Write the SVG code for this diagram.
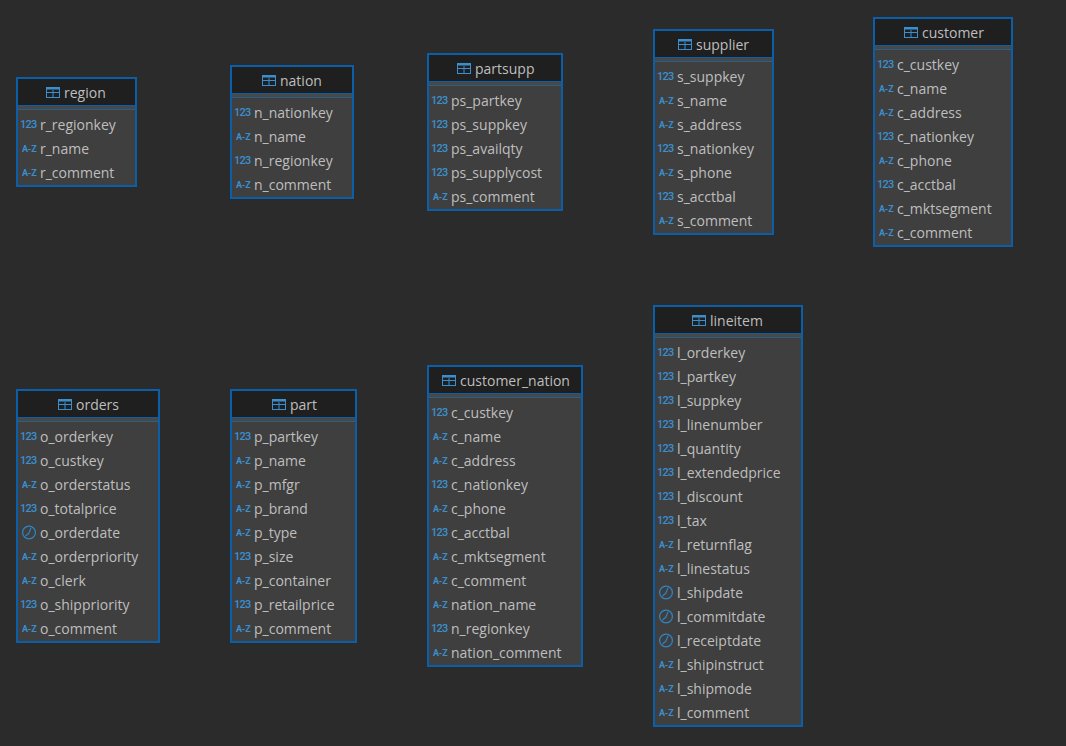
<svg xmlns="http://www.w3.org/2000/svg" width="1066" height="746" viewBox="0 0 1066 746">
<style>
.box{fill:#3f3f3f}
.head{fill:#1f1f1f}
.sep{fill:#484848}
.l1{fill:none;stroke:#0b5ea8;stroke-width:1}
.l2{fill:none;stroke:#2a5f88;stroke-width:1}
.border{fill:none;stroke:#0b5ea8;stroke-width:2}
.t,.h{font-family:"Open Sans","Noto Sans",sans-serif;font-size:14px;fill:#bebebe}
.n{font-family:Roboto,"Noto Sans",sans-serif;font-size:11px;font-weight:500;letter-spacing:-0.7px;fill:#3a8fd0}
.a{font-family:Roboto,"Noto Sans",sans-serif;font-size:9px;font-weight:700;letter-spacing:-0.2px;fill:#3a8fd0}
</style>
<defs>
<g id="ti"><rect x="0.5" y="0.5" width="13" height="10" fill="none" stroke="#3a8fd0"/><path d="M0 5.5H14M7 3V11" stroke="#3a8fd0" fill="none"/><rect x="0.5" y="0.5" width="13" height="2" fill="#3a8fd0"/></g>
<g id="ck"><circle cx="7" cy="7" r="6.4" fill="none" stroke="#2f86c4" stroke-width="1.2"/><path d="M9 2.5L6.8 7.8L3.5 10.5" fill="none" stroke="#2f86c4" stroke-width="1.1"/></g>
</defs>
<rect width="1066" height="746" fill="#2b2b2b"/>
<g id="connectors"/>
<g id="region">
<rect class="box" x="17" y="78" width="119" height="108"/><rect class="head" x="17" y="78" width="119" height="27"/><rect class="sep" x="17" y="105" width="119" height="4"/><path class="l1" d="M17 105.5h119"/><path class="l2" d="M17 109.5h119"/><rect class="border" x="17" y="78" width="119" height="108"/>
<use href="#ti" x="46" y="87"/><text class="h" x="64" y="98">region</text>
<text class="n" x="20" y="128">123</text><text class="t" x="40" y="130">r_regionkey</text>
<text class="a" x="22" y="152">A-Z</text><text class="t" x="40" y="154">r_name</text>
<text class="a" x="22" y="176">A-Z</text><text class="t" x="40" y="178">r_comment</text>
</g>
<g id="nation">
<rect class="box" x="231" y="66" width="122" height="132"/><rect class="head" x="231" y="66" width="122" height="27"/><rect class="sep" x="231" y="93" width="122" height="4"/><path class="l1" d="M231 93.5h122"/><path class="l2" d="M231 97.5h122"/><rect class="border" x="231" y="66" width="122" height="132"/>
<use href="#ti" x="262" y="75"/><text class="h" x="280" y="86">nation</text>
<text class="n" x="234" y="116">123</text><text class="t" x="254" y="118">n_nationkey</text>
<text class="a" x="236" y="140">A-Z</text><text class="t" x="254" y="142">n_name</text>
<text class="n" x="234" y="164">123</text><text class="t" x="254" y="166">n_regionkey</text>
<text class="a" x="236" y="188">A-Z</text><text class="t" x="254" y="190">n_comment</text>
</g>
<g id="partsupp">
<rect class="box" x="428" y="54" width="134" height="156"/><rect class="head" x="428" y="54" width="134" height="27"/><rect class="sep" x="428" y="81" width="134" height="4"/><path class="l1" d="M428 81.5h134"/><path class="l2" d="M428 85.5h134"/><rect class="border" x="428" y="54" width="134" height="156"/>
<use href="#ti" x="457" y="63"/><text class="h" x="475" y="74">partsupp</text>
<text class="n" x="431" y="104">123</text><text class="t" x="451" y="106">ps_partkey</text>
<text class="n" x="431" y="128">123</text><text class="t" x="451" y="130">ps_suppkey</text>
<text class="n" x="431" y="152">123</text><text class="t" x="451" y="154">ps_availqty</text>
<text class="n" x="431" y="176">123</text><text class="t" x="451" y="178">ps_supplycost</text>
<text class="a" x="433" y="200">A-Z</text><text class="t" x="451" y="202">ps_comment</text>
</g>
<g id="supplier">
<rect class="box" x="654" y="30" width="119" height="204"/><rect class="head" x="654" y="30" width="119" height="27"/><rect class="sep" x="654" y="57" width="119" height="4"/><path class="l1" d="M654 57.5h119"/><path class="l2" d="M654 61.5h119"/><rect class="border" x="654" y="30" width="119" height="204"/>
<use href="#ti" x="678" y="39"/><text class="h" x="696" y="50">supplier</text>
<text class="n" x="657" y="80">123</text><text class="t" x="677" y="82">s_suppkey</text>
<text class="a" x="659" y="104">A-Z</text><text class="t" x="677" y="106">s_name</text>
<text class="a" x="659" y="128">A-Z</text><text class="t" x="677" y="130">s_address</text>
<text class="n" x="657" y="152">123</text><text class="t" x="677" y="154">s_nationkey</text>
<text class="a" x="659" y="176">A-Z</text><text class="t" x="677" y="178">s_phone</text>
<text class="n" x="657" y="200">123</text><text class="t" x="677" y="202">s_acctbal</text>
<text class="a" x="659" y="224">A-Z</text><text class="t" x="677" y="226">s_comment</text>
</g>
<g id="customer">
<rect class="box" x="874" y="18" width="138" height="228"/><rect class="head" x="874" y="18" width="138" height="27"/><rect class="sep" x="874" y="45" width="138" height="4"/><path class="l1" d="M874 45.5h138"/><path class="l2" d="M874 49.5h138"/><rect class="border" x="874" y="18" width="138" height="228"/>
<use href="#ti" x="904" y="27"/><text class="h" x="922" y="38">customer</text>
<text class="n" x="877" y="68">123</text><text class="t" x="897" y="70">c_custkey</text>
<text class="a" x="879" y="92">A-Z</text><text class="t" x="897" y="94">c_name</text>
<text class="a" x="879" y="116">A-Z</text><text class="t" x="897" y="118">c_address</text>
<text class="n" x="877" y="140">123</text><text class="t" x="897" y="142">c_nationkey</text>
<text class="a" x="879" y="164">A-Z</text><text class="t" x="897" y="166">c_phone</text>
<text class="n" x="877" y="188">123</text><text class="t" x="897" y="190">c_acctbal</text>
<text class="a" x="879" y="212">A-Z</text><text class="t" x="897" y="214">c_mktsegment</text>
<text class="a" x="879" y="236">A-Z</text><text class="t" x="897" y="238">c_comment</text>
</g>
<g id="orders">
<rect class="box" x="17" y="390" width="142" height="252"/><rect class="head" x="17" y="390" width="142" height="27"/><rect class="sep" x="17" y="417" width="142" height="4"/><path class="l1" d="M17 417.5h142"/><path class="l2" d="M17 421.5h142"/><rect class="border" x="17" y="390" width="142" height="252"/>
<use href="#ti" x="58" y="399"/><text class="h" x="76" y="410">orders</text>
<text class="n" x="20" y="440">123</text><text class="t" x="40" y="442">o_orderkey</text>
<text class="n" x="20" y="464">123</text><text class="t" x="40" y="466">o_custkey</text>
<text class="a" x="22" y="488">A-Z</text><text class="t" x="40" y="490">o_orderstatus</text>
<text class="n" x="20" y="512">123</text><text class="t" x="40" y="514">o_totalprice</text>
<use href="#ck" x="22" y="525.5"/><text class="t" x="40" y="538">o_orderdate</text>
<text class="a" x="22" y="560">A-Z</text><text class="t" x="40" y="562">o_orderpriority</text>
<text class="a" x="22" y="584">A-Z</text><text class="t" x="40" y="586">o_clerk</text>
<text class="n" x="20" y="608">123</text><text class="t" x="40" y="610">o_shippriority</text>
<text class="a" x="22" y="632">A-Z</text><text class="t" x="40" y="634">o_comment</text>
</g>
<g id="part">
<rect class="box" x="231" y="390" width="125" height="252"/><rect class="head" x="231" y="390" width="125" height="27"/><rect class="sep" x="231" y="417" width="125" height="4"/><path class="l1" d="M231 417.5h125"/><path class="l2" d="M231 421.5h125"/><rect class="border" x="231" y="390" width="125" height="252"/>
<use href="#ti" x="272" y="399"/><text class="h" x="290" y="410">part</text>
<text class="n" x="234" y="440">123</text><text class="t" x="254" y="442">p_partkey</text>
<text class="a" x="236" y="464">A-Z</text><text class="t" x="254" y="466">p_name</text>
<text class="a" x="236" y="488">A-Z</text><text class="t" x="254" y="490">p_mfgr</text>
<text class="a" x="236" y="512">A-Z</text><text class="t" x="254" y="514">p_brand</text>
<text class="a" x="236" y="536">A-Z</text><text class="t" x="254" y="538">p_type</text>
<text class="n" x="234" y="560">123</text><text class="t" x="254" y="562">p_size</text>
<text class="a" x="236" y="584">A-Z</text><text class="t" x="254" y="586">p_container</text>
<text class="n" x="234" y="608">123</text><text class="t" x="254" y="610">p_retailprice</text>
<text class="a" x="236" y="632">A-Z</text><text class="t" x="254" y="634">p_comment</text>
</g>
<g id="customer_nation">
<rect class="box" x="428" y="366" width="154" height="300"/><rect class="head" x="428" y="366" width="154" height="27"/><rect class="sep" x="428" y="393" width="154" height="4"/><path class="l1" d="M428 393.5h154"/><path class="l2" d="M428 397.5h154"/><rect class="border" x="428" y="366" width="154" height="300"/>
<use href="#ti" x="442" y="375"/><text class="h" x="460" y="386">customer_nation</text>
<text class="n" x="431" y="416">123</text><text class="t" x="451" y="418">c_custkey</text>
<text class="a" x="433" y="440">A-Z</text><text class="t" x="451" y="442">c_name</text>
<text class="a" x="433" y="464">A-Z</text><text class="t" x="451" y="466">c_address</text>
<text class="n" x="431" y="488">123</text><text class="t" x="451" y="490">c_nationkey</text>
<text class="a" x="433" y="512">A-Z</text><text class="t" x="451" y="514">c_phone</text>
<text class="n" x="431" y="536">123</text><text class="t" x="451" y="538">c_acctbal</text>
<text class="a" x="433" y="560">A-Z</text><text class="t" x="451" y="562">c_mktsegment</text>
<text class="a" x="433" y="584">A-Z</text><text class="t" x="451" y="586">c_comment</text>
<text class="a" x="433" y="608">A-Z</text><text class="t" x="451" y="610">nation_name</text>
<text class="n" x="431" y="632">123</text><text class="t" x="451" y="634">n_regionkey</text>
<text class="a" x="433" y="656">A-Z</text><text class="t" x="451" y="658">nation_comment</text>
</g>
<g id="lineitem">
<rect class="box" x="654" y="306" width="148" height="420"/><rect class="head" x="654" y="306" width="148" height="27"/><rect class="sep" x="654" y="333" width="148" height="4"/><path class="l1" d="M654 333.5h148"/><path class="l2" d="M654 337.5h148"/><rect class="border" x="654" y="306" width="148" height="420"/>
<use href="#ti" x="692" y="315"/><text class="h" x="710" y="326">lineitem</text>
<text class="n" x="657" y="356">123</text><text class="t" x="677" y="358">l_orderkey</text>
<text class="n" x="657" y="380">123</text><text class="t" x="677" y="382">l_partkey</text>
<text class="n" x="657" y="404">123</text><text class="t" x="677" y="406">l_suppkey</text>
<text class="n" x="657" y="428">123</text><text class="t" x="677" y="430">l_linenumber</text>
<text class="n" x="657" y="452">123</text><text class="t" x="677" y="454">l_quantity</text>
<text class="n" x="657" y="476">123</text><text class="t" x="677" y="478">l_extendedprice</text>
<text class="n" x="657" y="500">123</text><text class="t" x="677" y="502">l_discount</text>
<text class="n" x="657" y="524">123</text><text class="t" x="677" y="526">l_tax</text>
<text class="a" x="659" y="548">A-Z</text><text class="t" x="677" y="550">l_returnflag</text>
<text class="a" x="659" y="572">A-Z</text><text class="t" x="677" y="574">l_linestatus</text>
<use href="#ck" x="659" y="585.5"/><text class="t" x="677" y="598">l_shipdate</text>
<use href="#ck" x="659" y="609.5"/><text class="t" x="677" y="622">l_commitdate</text>
<use href="#ck" x="659" y="633.5"/><text class="t" x="677" y="646">l_receiptdate</text>
<text class="a" x="659" y="668">A-Z</text><text class="t" x="677" y="670">l_shipinstruct</text>
<text class="a" x="659" y="692">A-Z</text><text class="t" x="677" y="694">l_shipmode</text>
<text class="a" x="659" y="716">A-Z</text><text class="t" x="677" y="718">l_comment</text>
</g>
</svg>
